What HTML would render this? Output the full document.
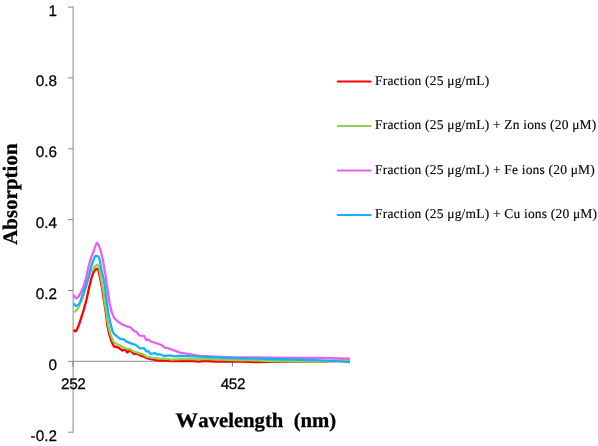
<!DOCTYPE html>
<html><head><meta charset="utf-8"><title>Absorption spectra</title>
<style>
html,body{margin:0;padding:0;background:#fff;}
svg{display:block;text-rendering:geometricPrecision;}
.tick{font-family:"Liberation Sans",sans-serif;font-size:15.3px;fill:#000;stroke:#000;stroke-width:0.25px;}
.leg{font-family:"Liberation Serif",serif;font-size:13.5px;letter-spacing:0.19px;fill:#000;stroke:#000;stroke-width:0.12px;}
.ttl{font-family:"Liberation Serif",serif;font-weight:bold;font-size:20.7px;fill:#000;stroke:#000;stroke-width:0.3px;font-kerning:none;}
</style></head>
<body>
<svg width="598" height="446" viewBox="0 0 598 446">
<rect width="598" height="446" fill="#fff"/>
<g stroke="#8a8a8a" stroke-width="1" fill="none">
<line x1="73.1" x2="73.1" y1="6.6" y2="432.7"/>
<line x1="73.1" x2="350" y1="361.3" y2="361.3"/>
<line x1="67.9" x2="73.1" y1="7.1" y2="7.1"/><line x1="67.9" x2="73.1" y1="77.9" y2="77.9"/><line x1="67.9" x2="73.1" y1="148.8" y2="148.8"/><line x1="67.9" x2="73.1" y1="219.6" y2="219.6"/><line x1="67.9" x2="73.1" y1="290.5" y2="290.5"/><line x1="67.9" x2="73.1" y1="361.4" y2="361.4"/><line x1="67.9" x2="73.1" y1="432.2" y2="432.2"/>
<line x1="73.1" x2="73.1" y1="361.3" y2="366.6" stroke="#777"/>
<line x1="232.4" x2="232.4" y1="361.3" y2="366.6" stroke="#777"/>
</g>
<g class="tick"><text x="56.9" y="15.5" text-anchor="end">1</text><text x="56.9" y="86.3" text-anchor="end">0.8</text><text x="56.9" y="157.2" text-anchor="end">0.6</text><text x="56.9" y="228.0" text-anchor="end">0.4</text><text x="56.9" y="298.9" text-anchor="end">0.2</text><text x="56.9" y="369.8" text-anchor="end">0</text><text x="56.9" y="440.6" text-anchor="end">-0.2</text>
<text x="73.3" y="388.7" text-anchor="middle" letter-spacing="-0.35">252</text>
<text x="232.9" y="388.7" text-anchor="middle" letter-spacing="-0.35">452</text>
</g>
<polyline fill="none" stroke="#ff0000" stroke-width="2.3" stroke-linejoin="round" stroke-linecap="butt" points="73.8,329.6 74.6,331.0 75.4,331.4 76.3,330.6 77.2,329.0 79.0,324.6 83.5,310.6 86.6,299.3 89.1,287.5 91.5,277.9 93.8,271.7 95.5,269.6 97.0,268.8 98.5,270.5 100.1,277.9 101.9,286.9 103.2,295.5 104.5,304.0 105.9,312.9 107.3,325.0 109.2,334.0 111.7,342.0 114.0,346.5 117.6,347.2 119.8,348.5 122.5,350.6 124.7,349.2 127.4,352.4 129.7,350.1 134.1,354.1 136.4,353.5 140.0,355.3 143.1,356.3 146.3,358.0 150.8,359.2 155.2,359.8 158.4,360.7 162.4,360.3 171.4,361.0 180.0,361.0 190.0,360.8 199.1,361.6 204.1,360.9 215.0,361.5 235.0,361.4 255.0,362.0 270.0,361.8 290.0,361.8 320.0,361.5 350.0,360.4"/><polyline fill="none" stroke="#92d050" stroke-width="2.3" stroke-linejoin="round" stroke-linecap="butt" points="73.8,312.2 75.0,311.4 76.7,310.2 79.0,306.6 82.6,298.1 85.2,290.0 88.0,279.0 90.5,272.0 92.8,269.7 95.5,266.0 97.3,264.8 98.5,266.0 99.4,269.0 100.9,277.9 102.6,287.0 103.9,295.0 105.0,304.0 106.5,312.9 108.1,325.0 110.4,334.0 113.1,341.1 114.9,342.9 118.5,344.9 122.9,347.0 126.5,348.8 130.1,349.2 133.7,351.5 138.2,352.8 142.7,354.1 146.7,356.7 151.7,357.6 157.9,358.3 166.9,358.9 172.3,359.6 180.0,359.2 200.0,358.9 215.0,359.3 235.0,360.0 255.0,360.4 270.0,361.0 295.0,361.5 320.0,361.6 335.0,361.0 350.0,360.5"/><polyline fill="none" stroke="#e95ff0" stroke-width="2.3" stroke-linejoin="round" stroke-linecap="butt" points="73.8,294.8 74.6,296.9 75.8,298.3 76.9,297.9 78.0,297.0 79.0,295.9 81.5,291.3 83.5,286.9 86.1,277.9 88.0,268.8 90.3,260.0 92.3,254.5 94.1,249.9 95.4,246.2 96.3,243.8 97.1,242.8 97.9,243.6 99.0,246.2 100.4,249.9 102.7,258.9 104.2,267.9 105.9,277.9 107.5,289.0 109.7,304.0 111.9,312.9 114.1,317.9 118.2,321.9 123.1,325.0 128.5,326.8 130.1,327.2 134.6,331.3 136.4,331.7 139.5,335.6 144.0,335.9 146.3,340.1 148.5,339.7 150.8,341.5 156.1,343.2 161.5,345.0 164.7,347.7 168.7,348.4 173.2,350.2 180.0,352.7 185.0,353.3 195.1,355.2 200.0,355.8 215.0,356.6 235.0,357.3 255.0,357.4 270.0,357.7 295.0,358.0 320.0,358.0 350.0,358.6"/><polyline fill="none" stroke="#16b1f3" stroke-width="2.3" stroke-linejoin="round" stroke-linecap="butt" points="73.8,303.3 74.6,304.9 75.8,305.9 77.0,305.6 78.0,305.0 79.0,304.1 80.3,301.5 81.7,297.5 83.9,290.8 86.1,286.0 88.4,277.9 90.6,269.0 92.2,263.4 93.8,259.0 95.2,256.2 96.6,255.8 98.2,256.3 99.5,258.9 101.1,267.9 103.4,277.9 105.0,286.9 105.9,295.0 107.0,304.0 108.3,312.9 110.1,321.9 112.2,330.4 114.0,334.0 116.7,336.2 120.2,338.9 123.8,339.3 126.5,341.6 131.0,343.4 135.5,344.9 140.0,348.3 144.0,348.2 146.3,351.3 148.1,351.1 150.8,354.0 154.8,353.1 157.5,354.7 159.7,354.2 164.2,356.0 169.6,355.4 174.1,356.3 180.0,355.9 200.0,356.6 215.0,357.3 235.0,358.1 255.0,358.6 270.0,359.0 295.0,359.5 320.0,360.3 335.0,361.2 350.0,362.1"/>
<g class="leg"><line x1="337.7" x2="370.7" y1="81.5" y2="81.5" stroke="#ff0000" stroke-width="2" stroke-linecap="round"/><text x="375" y="84.9">Fraction (25 μg/mL)</text><line x1="337.7" x2="370.7" y1="126.0" y2="126.0" stroke="#92d050" stroke-width="2" stroke-linecap="round"/><text x="375" y="129.4">Fraction (25 μg/mL) + Zn ions (20 μM)</text><line x1="337.7" x2="370.7" y1="170.5" y2="170.5" stroke="#e95ff0" stroke-width="2" stroke-linecap="round"/><text x="375" y="173.9">Fraction (25 μg/mL) + Fe ions (20 μM)</text><line x1="337.7" x2="370.7" y1="215.0" y2="215.0" stroke="#16b1f3" stroke-width="2" stroke-linecap="round"/><text x="375" y="218.4">Fraction (25 μg/mL) + Cu ions (20 μM)</text></g>
<text class="ttl" transform="translate(175.4,426.8) scale(1.085,1)">W</text><text class="ttl" x="198.3" y="426.8" xml:space="preserve">avelength  (nm)</text>
<text class="ttl" transform="translate(17.4,244.7) rotate(-90)" letter-spacing="0.12">Absorption</text>
</svg>
</body></html>
